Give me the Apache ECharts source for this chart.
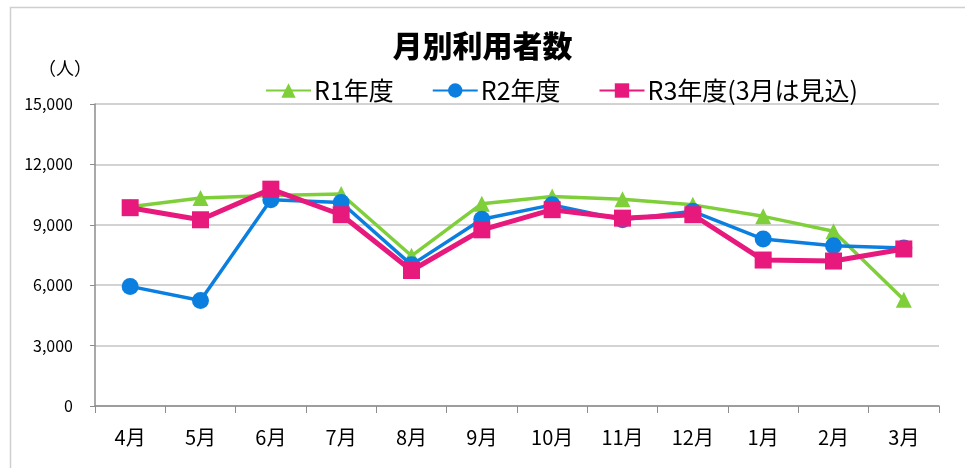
<!DOCTYPE html>
<html><head><meta charset="utf-8">
<script src="https://cdn.jsdelivr.net/npm/echarts@6/dist/echarts.min.js"></script>
<style>html,body{margin:0;padding:0;background:#fff}#c{width:965px;height:468px}</style>
</head><body><div id="c"></div>
<script>
const categories = ['4月','5月','6月','7月','8月','9月','10月','11月','12月','1月','2月','3月'];
const r1 = [9900, 10330, 10450, 10530, 7460, 10050, 10400, 10270, 9990, 9420, 8680, 5280];
const r2 = [5940, 5240, 10240, 10110, 7010, 9280, 9990, 9250, 9670, 8290, 7960, 7850];
const r3 = [9850, 9250, 10770, 9500, 6730, 8750, 9750, 9330, 9500, 7250, 7200, 7800];
const seriesNames = ['R1年度','R2年度','R3年度(3月は見込)'];
const yTicks = [0, 3000, 6000, 9000, 12000, 15000];

const font = '"Noto Sans CJK JP", "Noto Sans", sans-serif';
const chart = echarts.init(document.getElementById('c'));
chart.setOption({
  animation: false,
  textStyle: {fontFamily: font},
  title: {text: '月別利用者数', left: 'center', top: 26, textStyle: {fontSize: 30, fontWeight: 900, color: '#000', fontFamily: font}},
  graphic: [
    {type: 'rect', shape: {x: 10.5, y: 7.5, width: 980, height: 480}, style: {fill: 'none', stroke: '#cfcfcf', lineWidth: 1.5}, silent: true},
    {type: 'text', left: 38, top: 59, style: {text: '（人）', fontSize: 18, fill: '#000', fontFamily: font}}
  ],
  legend: {
    top: 73, left: 260, itemGap: 38, itemWidth: 45, itemHeight: 18,
    textStyle: {fontSize: 25, color: '#000', fontFamily: font, padding: [0,0,0,-2]},
    data: seriesNames
  },
  grid: {left: 95, right: 26, top: 104, bottom: 62},
  xAxis: {
    type: 'category', data: categories, boundaryGap: true,
    axisLine: {lineStyle: {color: '#8c8c8c', width: 1.5}},
    axisTick: {show: true, alignWithLabel: false, length: 7, lineStyle: {color: '#8c8c8c'}},
    axisLabel: {fontSize: 20, color: '#000', margin: 21, fontFamily: font}
  },
  yAxis: {
    type: 'value', min: 0, max: 15000, interval: 3000,
    axisLine: {show: true, lineStyle: {color: '#8c8c8c', width: 1.5}},
    axisTick: {show: true, length: 5, lineStyle: {color: '#8c8c8c'}},
    splitLine: {lineStyle: {color: '#c4c4c4', width: 1.5}},
    axisLabel: {fontSize: 16, color: '#000', margin: 22, fontFamily: font,
      formatter: v => yTicks.includes(v) ? v.toLocaleString('en-US') : ''}
  },
  series: [
    {name: seriesNames[0], type: 'line', data: r1, symbol: 'triangle', symbolSize: 16,
      lineStyle: {color: '#7fcf3a', width: 3.5}, itemStyle: {color: '#7fcf3a'}, z: 2},
    {name: seriesNames[1], type: 'line', data: r2, symbol: 'circle', symbolSize: 17,
      lineStyle: {color: '#0a7fe0', width: 3.5}, itemStyle: {color: '#0a7fe0'}, z: 3},
    {name: seriesNames[2], type: 'line', data: r3, symbol: 'rect', symbolSize: 17,
      lineStyle: {color: '#e8197c', width: 5}, itemStyle: {color: '#e8197c'}, z: 4}
  ]
});
</script></body></html>
